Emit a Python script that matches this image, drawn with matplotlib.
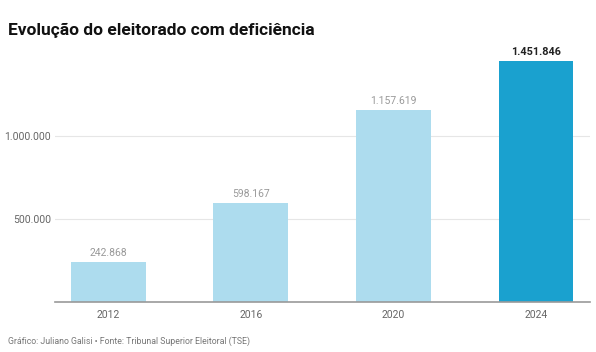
import matplotlib.pyplot as plt
from matplotlib.ticker import FuncFormatter

plt.rcParams['font.family'] = ['Roboto', 'DejaVu Sans']

anos = ['2012', '2016', '2020', '2024']
eleitores = [242868, 598167, 1157619, 1451846]
cores = ['#addcee', '#addcee', '#addcee', '#1aa1cf']
yticks = [500000, 1000000]


def br(v, pos=None):
    return f'{v:,.0f}'.replace(',', '.')


fig = plt.figure(figsize=(5.96, 3.52), dpi=100)
ax = fig.add_axes([55 / 596, 50 / 352, 535 / 596, 252 / 352])

x = range(len(anos))
ax.bar(x, eleitores, width=0.526, color=cores, zorder=2)

for i, v in enumerate(eleitores):
    if i == len(eleitores) - 1:
        ax.text(i, v + 25000, br(v), ha='center', va='bottom',
                fontsize=7.8, color='#222222', fontweight='bold')
    else:
        ax.text(i, v + 25000, br(v), ha='center', va='bottom',
                fontsize=7.5, color='#999999')

ax.set_xlim(-0.375, 3.379)
ax.set_ylim(0, 1520000)
ax.set_xticks(list(x))
ax.set_xticklabels(anos)
ax.set_yticks(yticks)
ax.yaxis.set_major_formatter(FuncFormatter(br))
ax.tick_params(axis='both', length=0, labelsize=7.5, colors='#666666')
ax.tick_params(axis='x', pad=6)
ax.tick_params(axis='y', pad=3)
ax.grid(axis='y', color='#e6e6e6', linewidth=0.8, zorder=0)

for s in ['top', 'right', 'left']:
    ax.spines[s].set_visible(False)
ax.spines['bottom'].set_color('#999999')
ax.spines['bottom'].set_linewidth(1.2)

fig.text(8 / 596, 1 - 30 / 352, 'Evolução do eleitorado com deficiência',
         fontsize=12.5, fontweight='bold', color='#111111', va='center')
fig.text(8 / 596, 1 - 341 / 352,
         'Gráfico: Juliano Galisi • Fonte: Tribunal Superior Eleitoral (TSE)',
         fontsize=6.3, color='#777777', va='center')

fig.savefig('out.png', dpi=100)
